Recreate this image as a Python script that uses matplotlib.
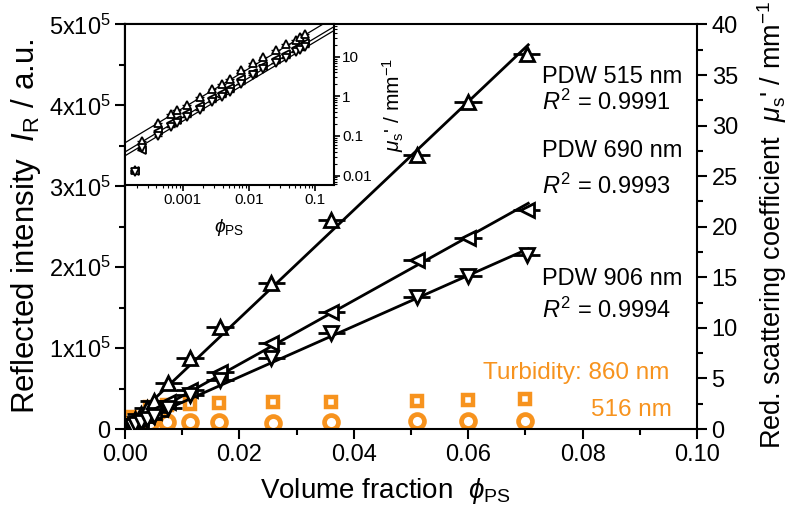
import numpy as np
import matplotlib
matplotlib.use("Agg")
import matplotlib.pyplot as plt
from matplotlib.ticker import MultipleLocator, FixedLocator, FixedFormatter, LogLocator, NullFormatter

plt.rcParams['font.family'] = ['Liberation Sans', 'DejaVu Sans']
plt.rcParams['mathtext.fontset'] = 'custom'
plt.rcParams['mathtext.rm'] = 'Liberation Sans'
plt.rcParams['mathtext.it'] = 'Liberation Sans:italic'
plt.rcParams['mathtext.bf'] = 'Liberation Sans:bold'

# ---------------- data ----------------
phi = [0.00019, 0.00024, 0.00043, 0.00066, 0.00081, 0.00115, 0.0018, 0.0028, 0.0039, 0.0051,
       0.0076, 0.0114, 0.0166, 0.0256, 0.0361, 0.0510, 0.0600, 0.0702]
mu_515 = [0.014, 0.075, 0.21, 0.36, 0.44, 0.62, 0.98, 1.5, 2.1, 2.8,
          4.52, 6.99, 10.12, 14.41, 20.67, 27.10, 32.37, 37.09]
mu_690 = [0.013, 0.045, 0.13, 0.21, 0.26, 0.37, 0.58, 0.9, 1.25, 1.65,
          2.70, 3.86, 5.67, 8.55, 11.6, 16.7, 18.86, 21.66]
mu_906 = [0.012, 0.05, 0.10, 0.17, 0.21, 0.30, 0.46, 0.71, 0.98, 1.32,
          2.05, 3.36, 4.85, 6.99, 9.47, 13.09, 15.13, 17.2]
phi_err_abs = 0.0024      # horizontal error in main plot
phi_err_rel = 0.15        # relative horizontal error in inset

phi_turb = [0.0009, 0.0044, 0.0073, 0.0114, 0.0165, 0.0259, 0.0360, 0.0510, 0.0600, 0.0700]
turb_860 = [1.2, 2.2, 2.35, 2.47, 2.54, 2.64, 2.70, 2.80, 2.87, 2.94]
turb_516 = [0.4, 0.55, 0.68, 0.72, 0.72, 0.56, 0.72, 0.79, 0.82, 0.79]

labels_pdw = ["PDW 515 nm", "PDW 690 nm", "PDW 906 nm"]
r2 = ["0.9991", "0.9993", "0.9994"]

intensity_per_mu = 5e5 / 40.0   # left axis scaling

orange = '#F7931E'

W, H = 788, 511
fig = plt.figure(figsize=(W / 100, H / 100), dpi=100)
ax = fig.add_axes([125 / W, 1 - 429 / H, 572 / W, 404.5 / H])

phi_a = np.array(phi)
series = [(mu_515, '^'), (mu_690, '<'), (mu_906, 'v')]
fits = []
for mu, mk in series:
    mu_a = np.array(mu)
    slope, icpt = np.polyfit(phi_a, mu_a, 1)
    k0 = np.sum(phi_a * mu_a) / np.sum(phi_a ** 2)
    fits.append(k0)
    xl = np.array([0.0003, 0.0705])
    ax.plot(xl, slope * xl + icpt, color='black', lw=2.0, zorder=3)
    ax.errorbar(phi_a, mu_a, xerr=phi_err_abs, fmt=mk, ms=10, mfc='white', mec='black',
                mew=2.0, ecolor='black', elinewidth=2.0, capsize=0, zorder=4)

ax.plot(phi_turb, turb_860, 's', ms=7, mfc='white', mec=orange, mew=3.2, zorder=2)
ax.plot(phi_turb, turb_516, 'o', ms=10, mfc='white', mec=orange, mew=3.4, zorder=2)

ax.set_xlim(0, 0.10)
ax.set_ylim(0, 40)
ax.xaxis.set_major_locator(MultipleLocator(0.02))
ax.xaxis.set_minor_locator(MultipleLocator(0.01))
ax.xaxis.set_major_formatter(matplotlib.ticker.FormatStrFormatter('%.2f'))
ax.yaxis.tick_right()
ax.yaxis.set_label_position('right')
ax.yaxis.set_major_locator(MultipleLocator(5))
ax.yaxis.set_minor_locator(MultipleLocator(2.5))
ax.tick_params(axis='both', which='major', direction='out', length=7, width=1.5, labelsize=17)
ax.tick_params(axis='both', which='minor', direction='out', length=4, width=1.5)
ax.tick_params(axis='y', which='both', left=False, right=True)
ax.tick_params(axis='x', which='both', top=False)
for s in ax.spines.values():
    s.set_linewidth(1.5)

ax.set_xlabel(r"Volume fraction  $\phi_{\mathrm{PS}}$", fontsize=20)
ax.xaxis.set_label_coords(0.455, -0.115)
ax.set_ylabel(r"Red. scattering coefficient  $\mu_{\mathrm{s}}$' / mm$^{-1}$", fontsize=19.5)
ax.yaxis.set_label_coords(1.102, 0.505)

sec = ax.secondary_yaxis('left', functions=(lambda m: m * intensity_per_mu, lambda i: i / intensity_per_mu))
sec.yaxis.set_major_locator(FixedLocator([0, 1e5, 2e5, 3e5, 4e5, 5e5]))
sec.yaxis.set_major_formatter(FixedFormatter(["0", r"1x10$^5$", r"2x10$^5$", r"3x10$^5$", r"4x10$^5$", r"5x10$^5$"]))
sec.yaxis.set_minor_locator(MultipleLocator(0.5e5))
sec.tick_params(axis='y', which='major', direction='out', length=7, width=1.5, labelsize=17)
sec.tick_params(axis='y', which='minor', direction='out', length=4, width=1.5)
sec.spines['left'].set_linewidth(1.5)
sec.set_ylabel(r"Reflected intensity  $I_{\mathrm{R}}$ / a.u.", fontsize=22.5, labelpad=4)

# annotations
tx = 541.7 / W
for (lab, r, y1, y2) in zip(labels_pdw, r2, [77, 151, 279], [102, 186, 310]):
    fig.text(tx, 1 - y1 / H, lab, fontsize=17, ha='left', va='center')
    fig.text(tx, 1 - y2 / H, r"$R^2$ = " + r, fontsize=17, ha='left', va='center')
fig.text(669 / W, 1 - 373 / H, "Turbidity: 860 nm", fontsize=17.5, color=orange, ha='right', va='center')
fig.text(672 / W, 1 - 410 / H, "516 nm", fontsize=17.5, color=orange, ha='right', va='center')

# ---------------- inset ----------------
ins = fig.add_axes([125 / W, 1 - 185 / H, 209 / W, 160.5 / H], zorder=5)
ins.set_facecolor('white')
xx = np.logspace(-4.5, 0, 50)
for (mu, mk), k in zip(series, fits):
    ins.plot(xx, 0.93 * k * xx, color='black', lw=0.9, zorder=2)
    ins.errorbar(phi_a, mu, xerr=phi_a * phi_err_rel, fmt=mk, ms=6, mfc='white', mec='black',
                 mew=1.3, ecolor='black', elinewidth=1.0, capsize=0, zorder=3)
ins.set_xscale('log')
ins.set_yscale('log')
ins.set_xlim(1.34e-4, 0.194)
ins.set_ylim(0.0058, 65)
ins.yaxis.tick_right()
ins.yaxis.set_label_position('right')
ins.xaxis.set_major_locator(FixedLocator([0.001, 0.01, 0.1]))
ins.xaxis.set_major_formatter(FixedFormatter(["0.001", "0.01", "0.1"]))
ins.xaxis.set_minor_locator(LogLocator(base=10, subs=np.arange(2, 10)))
ins.xaxis.set_minor_formatter(NullFormatter())
ins.yaxis.set_major_locator(FixedLocator([0.01, 0.1, 1, 10]))
ins.yaxis.set_major_formatter(FixedFormatter(["0.01", "0.1", "1", "10"]))
ins.yaxis.set_minor_locator(LogLocator(base=10, subs=np.arange(2, 10)))
ins.yaxis.set_minor_formatter(NullFormatter())
ins.tick_params(axis='both', which='major', direction='out', length=4, width=1.2, labelsize=11, pad=2)
ins.tick_params(axis='both', which='minor', direction='out', length=2, width=0.8)
ins.tick_params(axis='y', which='both', left=False, right=True)
for s in ins.spines.values():
    s.set_linewidth(1.5)
ins.set_xlabel(r"$\phi_{\mathrm{PS}}$", fontsize=14, labelpad=7)
ins.set_ylabel(r"$\mu_{\mathrm{s}}$' / mm$^{-1}$", fontsize=15, labelpad=6)

fig.savefig("out.png", dpi=100)
